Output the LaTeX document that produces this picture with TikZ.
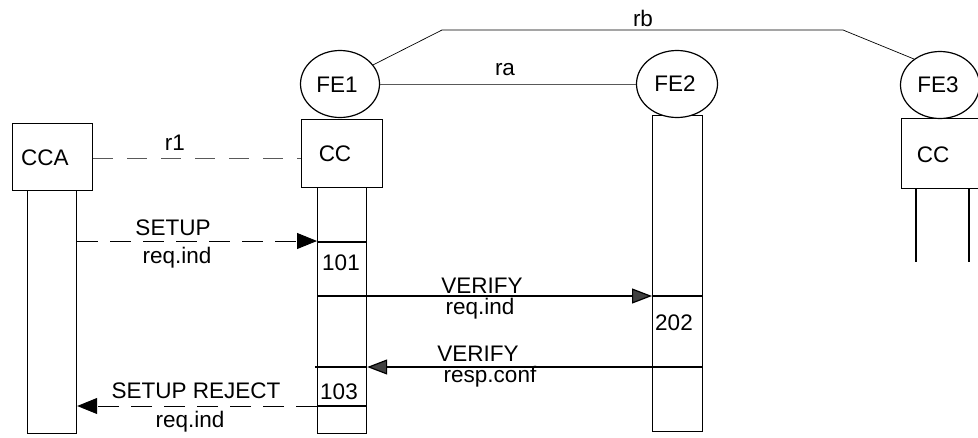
\documentclass[tikz,border=0pt]{standalone}
\usepackage{fontspec}
\setmainfont{Liberation Sans}
\usetikzlibrary{shapes.geometric,arrows.meta}
\begin{document}
\begin{tikzpicture}[x=1pt,y=-1pt,
  every node/.style={font=\fontsize{22.5}{25}\selectfont, inner sep=0pt},
  box/.style={draw, line width=1.2pt, rectangle, anchor=north west},
  fe/.style={draw, line width=1.2pt, ellipse, minimum width=79pt, minimum height=67pt},
  life/.style={draw, line width=1.2pt, rectangle, anchor=north west, minimum width=49pt},
  divider/.style={line width=1.2pt},
  thin/.style={line width=0.7pt},
  dashmsg/.style={line width=0.9pt, dash pattern=on 21pt off 12pt, -{Triangle[length=20pt,width=16pt]}},
  solidmsg/.style={line width=1.2pt, -{Triangle[length=20pt,width=15pt,fill=darkgray]}}
]
\useasboundingbox (0,0) rectangle (978,437);

% lifelines
\node[life, minimum height=243pt] (l0) at (27,190) {};
\node[life, minimum height=246pt] (l1) at (317,187) {};
\node[life, minimum height=316pt, minimum width=50pt] (l2) at (652,115) {};

% CCA and CC boxes
\node[box, minimum width=80pt, minimum height=67pt, fill=white] (cca) at (12,123) {};
\node (ccat) at (45,158) {CCA};
\node[box, minimum width=81pt, minimum height=68pt, fill=white] (cc1) at (301,119) {};
\node (cc1t) at (335,154) {CC};
\node[box, minimum width=90pt, minimum height=70pt, fill=white] (cc3) at (901,118) {};
\node (cc3t) at (933,155) {CC};

% FE ellipses
\node[fe, fill=white] (fe1) at (340,84) {};
\node (fe1t) at (337,85) {FE1};
\node[fe, fill=white, minimum width=81pt] (fe2) at (677,84) {};
\node (fe2t) at (675,84) {FE2};
\node[fe, fill=white] (fe3) at (940,85) {};
\node (fe3t) at (938,85) {FE3};

% FE3 lifeline stubs
\coordinate (s1) at (916,262);
\coordinate (s2) at (969,262);
\draw[divider] (cc3.south west -| s1) -- (s1);
\draw[divider] (cc3.south west -| s2) -- (s2);

% relationships
\coordinate (b1) at (442,30);
\coordinate (b2) at (843,30);
\draw[thin] (fe1.30) -- (b1) -- (b2) -- (fe3.135);
\node (rb) at (643,18) {rb};
\draw[thin, gray!70!black] (fe1.east) -- (fe2.west);
\node (ra) at (505,70) {ra};
\draw[thin, gray!70!black, dash pattern=on 20pt off 14pt] (cca.east |- 0,158) -- (cc1.west |- 0,158);
\node (r1) at (175,143) {r1};

% dividers on FE1 lifeline
\draw[divider] (l1.west |- 0,242) -- (l1.east |- 0,242);
\draw[divider] (l1.west |- 0,296) -- (l1.east |- 0,296);
\draw[divider] (315,367) -- (l1.east |- 0,367);
\draw[divider] (l1.west |- 0,406) -- (l1.east |- 0,406);
\node (n101) at (341,263) {101};
\node (n103) at (339,392) {103};

% dividers on FE2 lifeline
\draw[divider] (l2.west |- 0,296) -- (l2.east |- 0,296);
\draw[divider] (l2.west |- 0,367) -- (l2.east |- 0,367);
\node (n202) at (674,323) {202};

% messages
\draw[dashmsg] (l0.east |- 0,241) -- (l1.west |- 0,241);
\node (m1a) at (173,228) {SETUP};
\node (m1b) at (177,258) {req.ind};

\draw[solidmsg] (l1.east |- 0,296) -- (l2.west |- 0,296);
\node (m2a) at (482,286) {VERIFY};
\node (m2b) at (480,309) {req.ind};

\draw[solidmsg] (l2.west |- 0,367) -- (l1.east |- 0,367);
\node (m3a) at (478,354) {VERIFY};
\node (m3b) at (490,377) {resp.conf};

\draw[dashmsg] (l1.west |- 0,406) -- (l0.east |- 0,406);
\node (m4a) at (196,391) {SETUP REJECT};
\node (m4b) at (190,422) {req.ind};
\end{tikzpicture}
\end{document}
